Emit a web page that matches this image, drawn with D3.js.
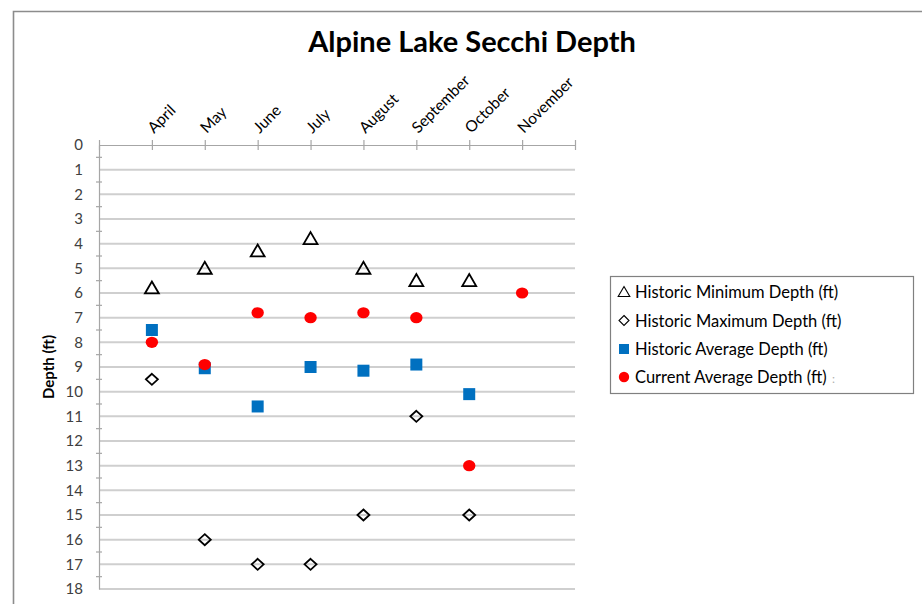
<!DOCTYPE html>
<html>
<head>
<meta charset="utf-8">
<script src="https://cdn.jsdelivr.net/npm/d3@7"></script>
<style>
  html, body { margin: 0; padding: 0; background: #fff; }
  svg { display: block; font-family: Lato, "Open Sans", sans-serif; }
</style>
</head>
<body>
<svg id="chart" width="922" height="604"></svg>
<script>
// Monthly Secchi depth readings (ft)
const months = ["April", "May", "June", "July", "August", "September", "October", "November"];
const historicMin = [5.8, 5.0, 4.3, 3.8, 5.0, 5.5, 5.5, null];
const historicMax = [9.5, 16.0, 17.0, 17.0, 15.0, 11.0, 15.0, null];
const historicAvg = [7.5, 9.05, 10.6, 9.0, 9.15, 8.9, 10.1, null];
const currentAvg = [8.0, 8.9, 6.8, 7.0, 6.8, 7.0, 13.0, 6.0];
const depthTicks = d3.range(0, 19);

const seriesNames = [
  "Historic Minimum Depth (ft)",
  "Historic Maximum Depth (ft)",
  "Historic Average Depth (ft)",
  "Current Average Depth (ft)"
];

const svg = d3.select("#chart");

// outer chart frame
svg.append("path")
  .attr("d", "M13.5,604 L13.5,11.5 L922,11.5")
  .attr("fill", "none").attr("stroke", "#8c8c8c").attr("stroke-width", 1.6);

// title
svg.append("text")
  .attr("x", 472).attr("y", 52)
  .attr("text-anchor", "middle")
  .attr("font-size", 29).attr("font-weight", "bold")
  .attr("fill", "#000")
  .text("Alpine Lake Secchi Depth");

const x = d3.scaleLinear().domain([0, 9]).range([99, 575]);
const y = d3.scaleLinear().domain([0, 18]).range([145, 589]);

// horizontal gridlines
svg.append("g").selectAll("line")
  .data(depthTicks.filter(d => d > 0))
  .join("line")
  .attr("x1", x(0)).attr("x2", x(9))
  .attr("y1", d => y(d)).attr("y2", d => y(d))
  .attr("stroke", "#cfcfcf").attr("stroke-width", 2);

// left depth axis
const yAxis = d3.axisLeft(y).tickValues(depthTicks).tickSize(0).tickPadding(16).tickFormat(d3.format("d"));
const gy = svg.append("g").attr("transform", `translate(${x(0)},0)`).call(yAxis);
gy.select(".domain").attr("stroke", "#a6a6a6").attr("stroke-width", 1.2);
gy.selectAll("text").attr("font-size", 15).attr("fill", "#404040")
  .attr("font-family", "Lato, 'Open Sans', sans-serif");

// minor ticks on the depth axis
svg.append("g").selectAll("line")
  .data(d3.range(0.5, 18, 1))
  .join("line")
  .attr("x1", x(0) - 3).attr("x2", x(0) + 3)
  .attr("y1", d => y(d)).attr("y2", d => y(d))
  .attr("stroke", "#a6a6a6").attr("stroke-width", 1.2);

// top month axis
const xAxis = d3.axisTop(x).tickValues(d3.range(0, 10)).tickSize(0).tickFormat("");
const gx = svg.append("g").attr("transform", `translate(0,${y(0)})`).call(xAxis);
gx.select(".domain").attr("stroke", "#a6a6a6").attr("stroke-width", 1.2);
gx.selectAll(".tick line").attr("y1", -5).attr("y2", 5)
  .attr("stroke", "#a6a6a6").attr("stroke-width", 1.2);

// rotated month labels
svg.append("g").selectAll("text")
  .data(months)
  .join("text")
  .attr("transform", (d, i) => `translate(${x(i + 1) + 2},${y(0) - 11}) rotate(-45)`)
  .attr("font-size", 15.5).attr("fill", "#000")
  .text(d => d);

// depth axis title
svg.append("text")
  .attr("transform", `translate(54,${(y(7.5) + y(10.5)) / 2}) rotate(-90)`)
  .attr("text-anchor", "middle")
  .attr("font-size", 15).attr("font-weight", "bold")
  .text("Depth (ft)");

// marker shapes
const triPath = s => `M0,${-s * 0.55} L${s * 0.58},${s * 0.45} L${-s * 0.58},${s * 0.45} Z`;
const diaPath = (w, h) => `M0,${-h / 2} L${w / 2},0 L0,${h / 2} L${-w / 2},0 Z`;

const pts = arr => arr.map((v, i) => ({ i, v })).filter(d => d.v !== null);

const plot = svg.append("g");

// historic minimum: open triangles
plot.append("g").selectAll("path")
  .data(pts(historicMin)).join("path")
  .attr("transform", d => `translate(${x(d.i + 1)},${y(d.v)})`)
  .attr("d", triPath(12))
  .attr("fill", "none").attr("stroke", "#000").attr("stroke-width", 1.8);

// historic maximum: open diamonds
plot.append("g").selectAll("path")
  .data(pts(historicMax)).join("path")
  .attr("transform", d => `translate(${x(d.i + 1)},${y(d.v)})`)
  .attr("d", diaPath(12, 11))
  .attr("fill", "none").attr("stroke", "#000").attr("stroke-width", 1.8);

// historic average: blue squares
plot.append("g").selectAll("rect")
  .data(pts(historicAvg)).join("rect")
  .attr("x", d => x(d.i + 1) - 6).attr("y", d => y(d.v) - 6)
  .attr("width", 12).attr("height", 12)
  .attr("fill", "#0070c0");

// current average: red circles
plot.append("g").selectAll("ellipse")
  .data(pts(currentAvg)).join("ellipse")
  .attr("cx", d => x(d.i + 1)).attr("cy", d => y(d.v))
  .attr("rx", 6.2).attr("ry", 5.6)
  .attr("fill", "#ff0000");

// legend
const lg = svg.append("g");
lg.append("rect")
  .attr("x", 610.5).attr("y", 276.5).attr("width", 303).attr("height", 117)
  .attr("fill", "#fff").attr("stroke", "#808080").attr("stroke-width", 1.2);

const rowY = [292, 320.5, 349, 377];
const lx = 624;
lg.append("path").attr("transform", `translate(${lx},${rowY[0]})`).attr("d", triPath(10))
  .attr("fill", "none").attr("stroke", "#000").attr("stroke-width", 1.1);
lg.append("path").attr("transform", `translate(${lx},${rowY[1]})`).attr("d", diaPath(10, 10))
  .attr("fill", "none").attr("stroke", "#000").attr("stroke-width", 1.1);
lg.append("rect").attr("x", lx - 5).attr("y", rowY[2] - 5).attr("width", 10).attr("height", 10)
  .attr("fill", "#0070c0");
lg.append("circle").attr("cx", lx).attr("cy", rowY[3]).attr("r", 5.2).attr("fill", "#ff0000");

lg.selectAll("text.lbl")
  .data(seriesNames).join("text")
  .attr("class", "lbl")
  .attr("x", 635).attr("y", (d, i) => rowY[i] + 6)
  .attr("font-size", 16.5).attr("fill", "#000")
  .text(d => d);
lg.append("text")
  .attr("x", 832).attr("y", rowY[3] + 5.5)
  .attr("font-size", 12).attr("fill", "#b0b0b0")
  .text(":");
</script>
</body>
</html>
